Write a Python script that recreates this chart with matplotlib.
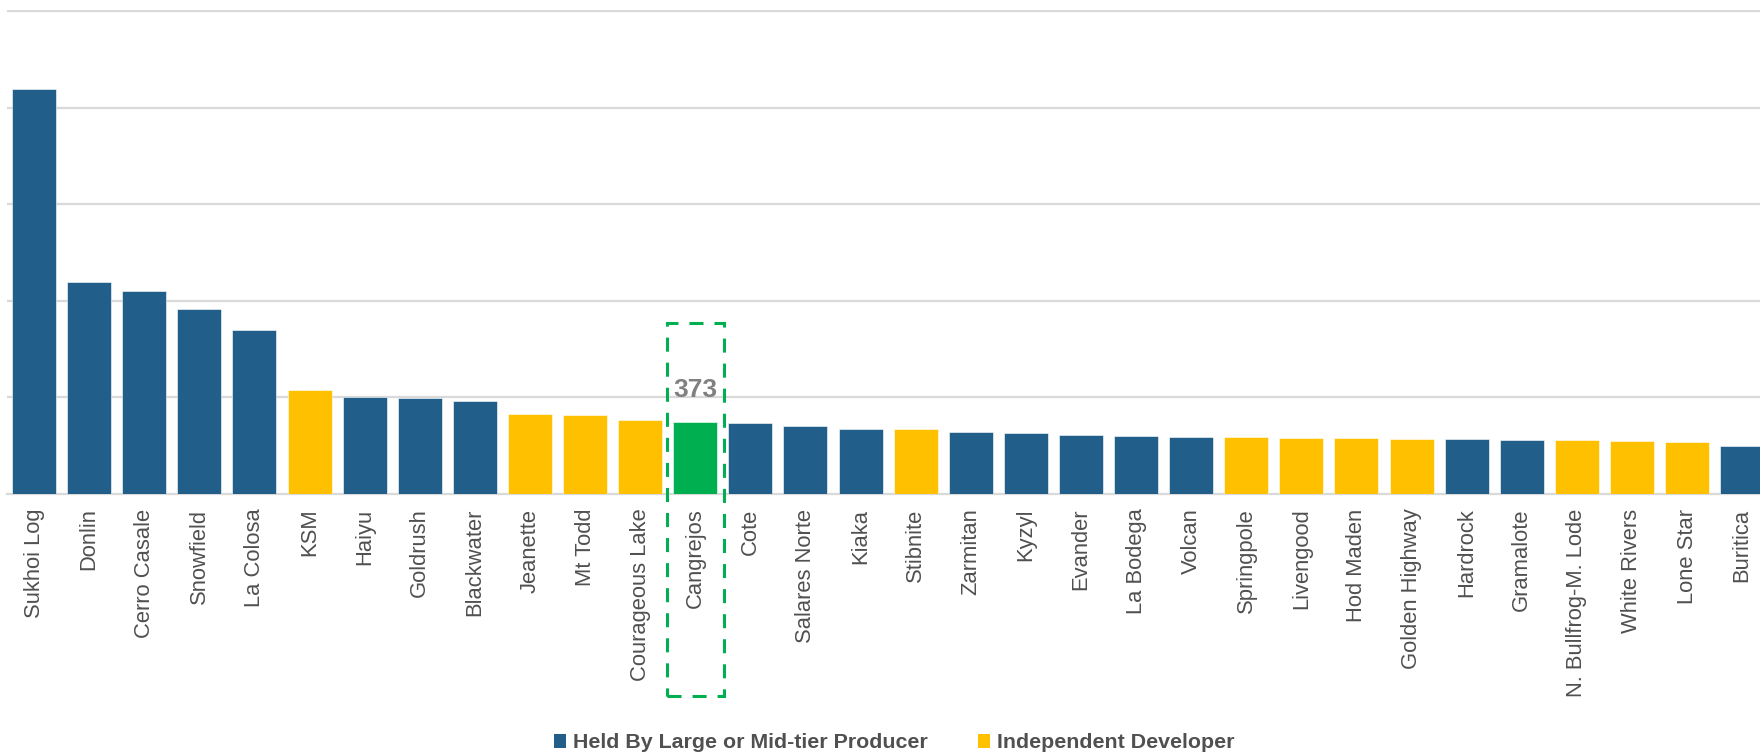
import matplotlib
matplotlib.use("Agg")
import matplotlib.pyplot as plt
from matplotlib.patches import Rectangle, Patch
from matplotlib.transforms import blended_transform_factory

projects = ["Sukhoi Log", "Donlin", "Cerro Casale", "Snowfield", "La Colosa", "KSM",
            "Haiyu", "Goldrush", "Blackwater", "Jeanette", "Mt Todd", "Courageous Lake",
            "Cangrejos", "Cote", "Salares Norte", "Kiaka", "Stibnite", "Zarmitan", "Kyzyl",
            "Evander", "La Bodega", "Volcan", "Springpole", "Livengood", "Hod Maden",
            "Golden Highway", "Hardrock", "Gramalote", "N. Bullfrog-M. Lode", "White Rivers",
            "Lone Star", "Buritica"]
values = [2098, 1098, 1050, 957, 848, 538, 500, 498, 483, 416, 410, 385,
          373, 366, 352, 338, 335, 321, 317, 307, 300, 297, 294, 292, 288,
          286, 286, 281, 279, 272, 269, 251]
owner = ["L", "L", "L", "L", "L", "I", "L", "L", "L", "I", "I", "I",
         "C", "L", "L", "L", "I", "L", "L", "L", "L", "L", "I", "I", "I",
         "I", "L", "L", "I", "I", "I", "L"]
highlight_label = "373"
legend_labels = ["Held By Large or Mid-tier Producer", "Independent Developer"]

BLUE = "#215F8A"
YELLOW = "#FFC000"
GREEN = "#00B050"
GRID = "#D9D9D9"
TXT = "#505050"
cmap = {"L": BLUE, "I": YELLOW, "C": GREEN}

plt.rcParams["font.family"] = ["Liberation Sans", "DejaVu Sans"]

fig = plt.figure(figsize=(17.6, 7.54), dpi=100)
W, H = 1760, 754
left_px, pitch = 6.5, 55.1
base_px, top_px = 494, 10
ax = fig.add_axes([left_px / W, (H - base_px) / H, len(projects) * pitch / W, (base_px - top_px) / H])

x = list(range(len(projects)))
ax.bar(x, values, width=0.8, color=[cmap[o] for o in owner], edgecolor="white", linewidth=0.4, zorder=3)

ax.set_xlim(-0.5, len(projects) - 0.5)
ymax = (base_px - top_px) / 96.56 * 500
ax.set_ylim(0, ymax)
ax.set_yticks([500, 1000, 1500, 2000, 2500])
ax.yaxis.grid(True, color=GRID, linewidth=1.6, zorder=0)
ax.tick_params(axis="y", left=False, labelleft=False)
ax.set_xticks(x)
ax.set_xticklabels(projects, rotation=90, fontsize=15.8, color=TXT)
ax.tick_params(axis="x", length=0, pad=10.5)
for s in ["left", "right", "top"]:
    ax.spines[s].set_visible(False)
ax.spines["bottom"].set_color(GRID)
ax.spines["bottom"].set_linewidth(1.6)
ax.set_axisbelow(True)

ci = owner.index("C")
ax.text(ci, 541, highlight_label, ha="center", va="center", fontsize=19,
        fontweight="bold", color="#808080", zorder=5)

trans = blended_transform_factory(ax.transData, fig.transFigure)
y0 = (H - 696) / H
y1 = (H - 322.7) / H
rect = Rectangle((ci - 0.52, y0), 1.04, y1 - y0, transform=trans, fill=False,
                 edgecolor=GREEN, linewidth=2.2, linestyle=(0, (4.6, 3.6)),
                 clip_on=False, zorder=6)
fig.add_artist(rect)

handles = [Patch(facecolor=BLUE, edgecolor="none"), Patch(facecolor=YELLOW, edgecolor="none")]
fig.legend(handles, legend_labels, loc="center", bbox_to_anchor=(894 / W, 11 / H),
           ncol=2, frameon=False, handlelength=0.58, handleheight=0.6,
           handletextpad=0.3, columnspacing=2.35,
           prop={"family": ["Liberation Sans", "DejaVu Sans"], "weight": "bold", "size": 15.4},
           labelcolor=TXT, borderaxespad=0, borderpad=0)

fig.savefig("out.png", dpi=100)
